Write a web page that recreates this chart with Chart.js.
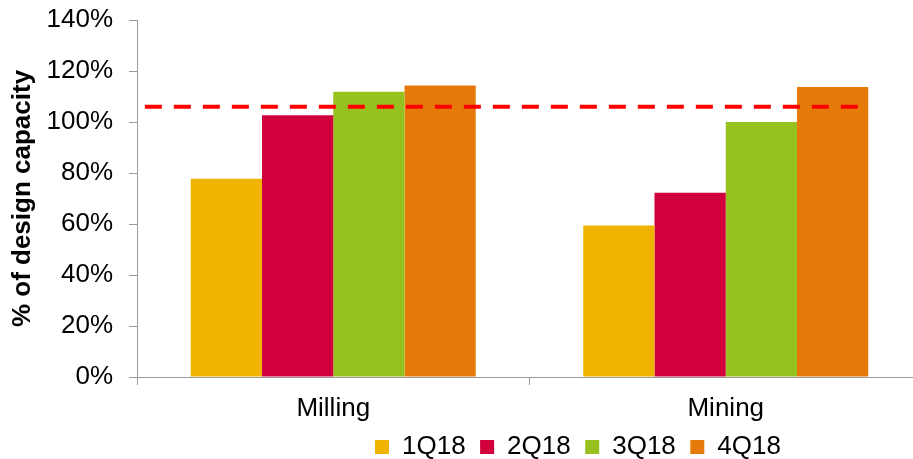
<!DOCTYPE html>
<html>
<head>
<meta charset="utf-8">
<script src="https://cdn.jsdelivr.net/npm/chart.js@4/dist/chart.umd.min.js"></script>
<style>
  html, body { margin: 0; padding: 0; overflow: hidden; background: #fff; width: 913px; height: 459px; }
  #wrap { position: absolute; left: 0; top: 0; width: 930px; height: 459px; }
</style>
</head>
<body>
<div id="wrap"><canvas id="c" width="930" height="459"></canvas></div>
<script>
const categories = ['Milling', 'Mining'];
const seriesNames = ['1Q18', '2Q18', '3Q18', '4Q18'];
const q1 = [77.7, 59.4];
const q2 = [102.6, 72.3];
const q3 = [111.9, 100.0];
const q4 = [114.3, 113.7];
const targetValue = 106;
const targetSpan = [-0.48, 1.345];   // in category units (Milling = 0, Mining = 1)
const yTickValues = [0, 20, 40, 60, 80, 100, 120, 140];
const yTitle = '% of design capacity';

const colors = ['#EFB300', '#D1003C', '#96C11F', '#E67A08'];
const FONT = 'Liberation Sans, Arial, sans-serif';
const GRAY = '#9a9a9a';

const barSets = [q1, q2, q3, q4].map((d, i) => ({
  label: seriesNames[i],
  data: d,
  backgroundColor: colors[i],
  borderWidth: 0,
  categoryPercentage: 0.726,
  barPercentage: 1.0
}));

const targetLine = {
  id: 'targetLine',
  afterDatasetsDraw(chart) {
    const { ctx, scales } = chart;
    const yy = scales.y.getPixelForValue(targetValue);
    const x0 = scales.x.getPixelForValue(targetSpan[0]);
    const x1 = scales.x.getPixelForValue(targetSpan[1]);
    ctx.save();
    ctx.strokeStyle = '#FF0000';
    ctx.lineWidth = 4;
    ctx.setLineDash([17, 12]);
    ctx.beginPath();
    ctx.moveTo(x0, yy);
    ctx.lineTo(x1, yy);
    ctx.stroke();
    ctx.restore();
  }
};

const legendMover = {
  id: 'legendMover',
  afterLayout(chart) {
    const lg = chart.legend;
    if (!lg) return;
    const pad = lg.options.labels.padding;
    const h = lg.height;
    lg.left = 375 - pad;
    lg.right = 930;
    lg.top = 419.5;
    lg.bottom = 419.5 + h;
  }
};

new Chart(document.getElementById('c'), {
  type: 'bar',
  data: { labels: categories, datasets: barSets },
  plugins: [targetLine, legendMover],
  options: {
    responsive: false,
    animation: false,
    layout: { padding: { left: 0, right: 8, top: 20, bottom: -18.5 } },
    plugins: {
      legend: {
        position: 'bottom',
        align: 'start',
        labels: {
          boxWidth: 14,
          boxHeight: 14,
          padding: 14.5,
          color: '#000',
          font: { family: FONT, size: 26 }
        }
      },
      tooltip: { enabled: false }
    },
    scales: {
      x: {
        type: 'category',
        offset: true,
        grid: { display: true, drawOnChartArea: false, offset: true, tickLength: 8, color: GRAY, lineWidth: 1 },
        border: { display: true, color: GRAY, width: 1 },
        ticks: { color: '#000', font: { family: FONT, size: 26 }, padding: 8, maxRotation: 0 },
        afterFit(scale) { scale.height = 50; }
      },
      y: {
        type: 'linear',
        min: 0,
        max: 140,
        afterBuildTicks(scale) { scale.ticks = yTickValues.map(v => ({ value: v })); },
        grid: { display: true, drawOnChartArea: false, tickLength: 8, color: GRAY, lineWidth: 1 },
        border: { display: true, color: GRAY, width: 1 },
        ticks: {
          color: '#000',
          font: { family: FONT, size: 26 },
          padding: 16,
          callback: (v) => v + '%'
        },
        title: {
          display: true,
          text: yTitle,
          color: '#000',
          font: { family: FONT, size: 26, weight: 'bold' },
          padding: { top: 7, bottom: 0 }
        },
        afterFit(scale) { scale.width = 137; scale.paddingTop = 0; scale.paddingBottom = 0; }
      }
    }
  }
});
</script>
</body>
</html>
